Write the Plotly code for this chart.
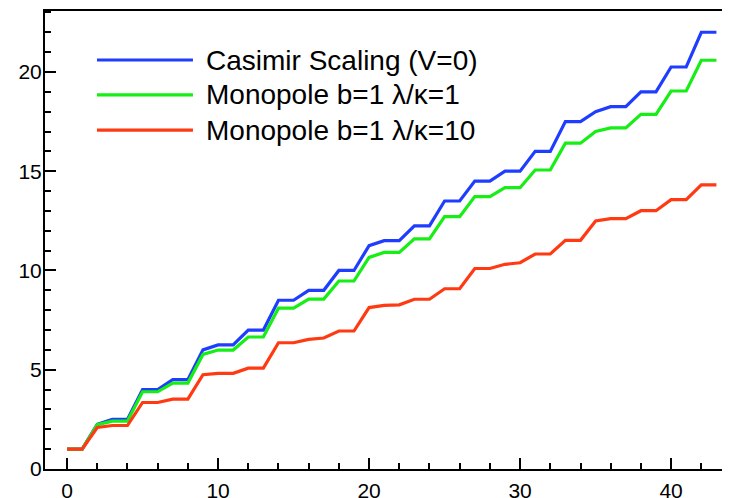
import plotly.graph_objects as go

x_vals = list(range(44))

casimir = [1, 1, 2.25, 2.5, 2.5, 4, 4, 4.5, 4.5, 6, 6.25, 6.25, 7, 7, 8.5, 8.5,
           9, 9, 10, 10, 11.25, 11.5, 11.5, 12.25, 12.25, 13.5, 13.5, 14.5, 14.5,
           15, 15, 16, 16, 17.5, 17.5, 18, 18.25, 18.25, 19, 19, 20.25, 20.25, 22, 22]

mono_1 = [1, 1, 2.23, 2.41, 2.41, 3.89, 3.89, 4.33, 4.33, 5.77, 5.99, 5.99, 6.65, 6.65,
          8.1, 8.1, 8.56, 8.56, 9.47, 9.47, 10.66, 10.91, 10.91, 11.59, 11.59, 12.71,
          12.71, 13.72, 13.72, 14.17, 14.17, 15.06, 15.06, 16.41, 16.41, 17.0, 17.18,
          17.18, 17.86, 17.86, 19.04, 19.04, 20.59, 20.59]

mono_10 = [1, 1, 2.09, 2.19, 2.19, 3.35, 3.35, 3.52, 3.52, 4.75, 4.82, 4.82, 5.08, 5.08,
           6.36, 6.36, 6.53, 6.6, 6.95, 6.95, 8.13, 8.24, 8.27, 8.55, 8.55, 9.08, 9.08,
           10.1, 10.1, 10.31, 10.39, 10.83, 10.83, 11.52, 11.52, 12.49, 12.61, 12.61,
           13.01, 13.01, 13.57, 13.57, 14.31, 14.31]

names = ["Casimir Scaling (V=0)", "Monopole b=1 \u03bb/\u03ba=1", "Monopole b=1 \u03bb/\u03ba=10"]
colors = ["#1f3dff", "#16ee16", "#ff3a12"]
series = [casimir, mono_1, mono_10]

x_ticks = [0, 10, 20, 30, 40]
y_ticks = [0, 5, 10, 15, 20]

fig = go.Figure()
for name, col, ys in zip(names, colors, series):
    fig.add_trace(go.Scatter(x=x_vals, y=ys, mode="lines", name=name,
                             line=dict(color=col, width=3.2), showlegend=False))

FONT = "Liberation Sans, Arial, sans-serif"

# legend drawn manually (long sample lines)
leg_y = [0.893, 0.817, 0.740]
for name, col, yy in zip(names, colors, leg_y):
    fig.add_shape(type="line", xref="paper", yref="paper", x0=0.0759, x1=0.216,
                  y0=yy, y1=yy, line=dict(color=col, width=3.2))
    fig.add_annotation(xref="paper", yref="paper", x=0.232, y=yy, text=name,
                       showarrow=False, xanchor="left", yanchor="middle",
                       font=dict(family=FONT, size=28, color="black"))

# page body has an 8px margin: shrink the figure so the plot area lands where it should
fig.update_layout(
    width=722, height=490,
    margin=dict(l=37, r=0, t=3, b=29, autoexpand=False),
    paper_bgcolor="white", plot_bgcolor="white",
    font=dict(family=FONT, size=21, color="black"),
)
fig.update_xaxes(range=[-1.46, 43.9], tickvals=x_ticks, ticks="inside", ticklen=11,
                 tickwidth=2, tickcolor="black", showline=True, linewidth=2,
                 linecolor="black", mirror=True, showgrid=False, zeroline=False,
                 automargin=False, ticklabelstandoff=2,
                 minor=dict(dtick=2, tick0=0, ticks="inside", ticklen=6, tickwidth=1.5,
                            tickcolor="black", showgrid=False),
                 tickfont=dict(family=FONT, size=21, color="black"))
fig.update_yaxes(range=[0, 23.07], tickvals=y_ticks, ticks="inside", ticklen=11,
                 tickwidth=2, tickcolor="black", showline=True, linewidth=2,
                 linecolor="black", mirror=False, showgrid=False, zeroline=False,
                 automargin=False, ticklabelstandoff=-3,
                 minor=dict(dtick=1, tick0=0, ticks="inside", ticklen=6, tickwidth=1.5,
                            tickcolor="black", showgrid=False),
                 tickfont=dict(family=FONT, size=21, color="black"))

fig.write_html("out.html")
